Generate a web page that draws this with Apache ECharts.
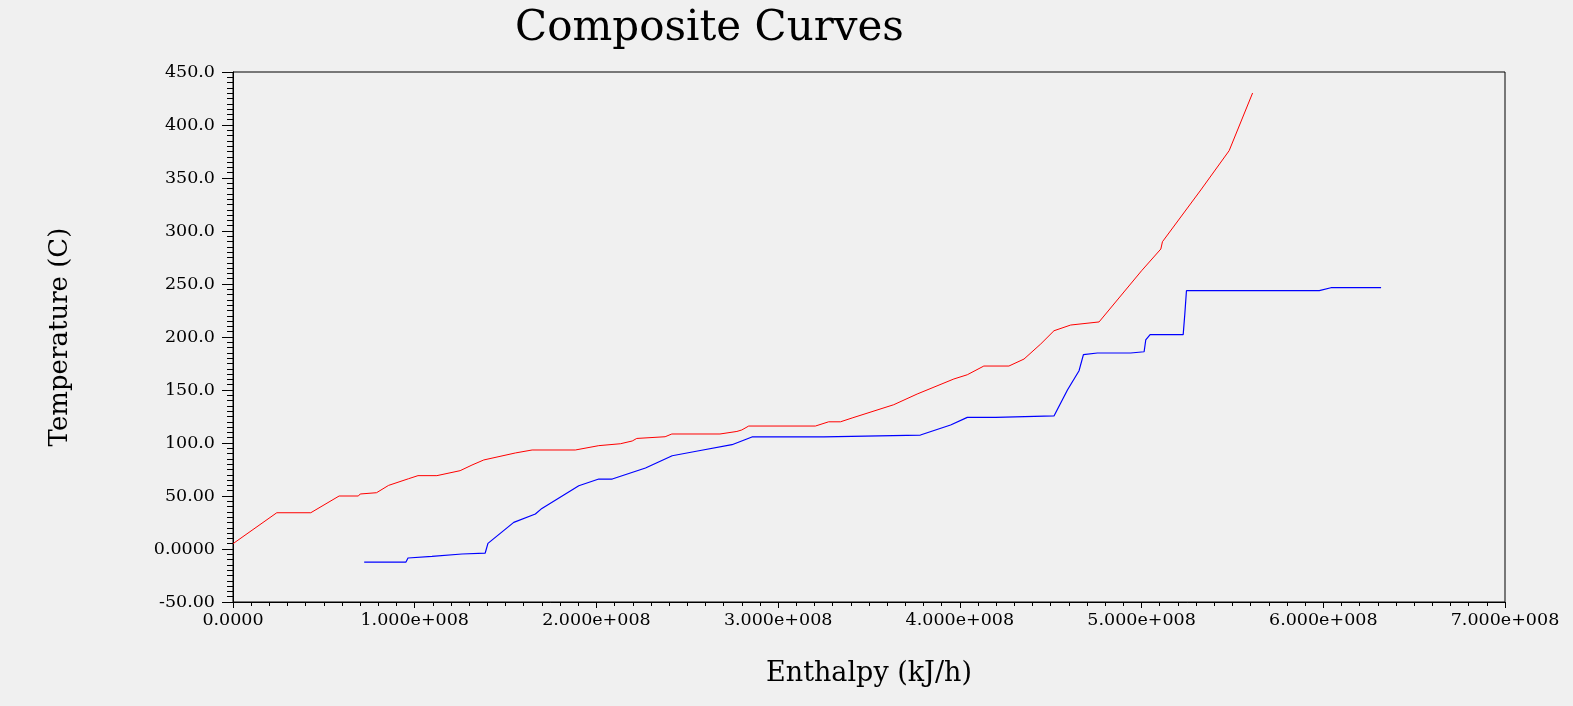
<!DOCTYPE html>
<html>
<head>
<meta charset="utf-8">
<script src="https://cdn.jsdelivr.net/npm/echarts@6/dist/echarts.min.js"></script>
<style>
html,body{margin:0;padding:0;background:#f0f0f0;}
#chart{width:1573px;height:706px;}
</style>
</head>
<body>
<div id="chart"></div>
<script>
// Hot composite curve (red): enthalpy kJ/h, temperature C
var hotEnthalpy = [0, 0.241e8, 0.428e8, 0.584e8, 0.69e8, 0.70e8, 0.79e8, 0.856e8, 0.966e8, 1.018e8, 1.122e8, 1.25e8, 1.315e8, 1.38e8, 1.554e8, 1.646e8, 1.884e8, 2.013e8, 2.132e8, 2.197e8, 2.222e8, 2.378e8, 2.415e8, 2.68e8, 2.773e8, 2.80e8, 2.838e8, 3.205e8, 3.278e8, 3.343e8, 3.407e8, 3.636e8, 3.765e8, 3.967e8, 4.041e8, 4.132e8, 4.27e8, 4.353e8, 4.445e8, 4.518e8, 4.61e8, 4.766e8, 5.0e8, 5.106e8, 5.115e8, 5.326e8, 5.482e8, 5.611e8];
var hotTemp = [5, 34.2, 34.2, 50, 50, 51.9, 53.1, 60, 66.3, 69.2, 69.2, 73.9, 79.2, 84, 90.6, 93.4, 93.4, 97.5, 99.3, 101.9, 104.3, 105.9, 108.5, 108.5, 110.9, 112.3, 116, 116, 120, 120, 123.6, 136.1, 146.2, 160.4, 164.4, 172.6, 172.6, 179.2, 193.4, 205.9, 211.3, 214.2, 262.5, 283, 289.9, 338.7, 375.8, 430.2];
// Cold composite curve (blue)
var coldEnthalpy = [0.722e8, 0.952e8, 0.963e8, 1.095e8, 1.26e8, 1.388e8, 1.403e8, 1.545e8, 1.664e8, 1.70e8, 1.903e8, 2.013e8, 2.087e8, 2.27e8, 2.417e8, 2.564e8, 2.746e8, 2.856e8, 3.251e8, 3.26e8, 3.783e8, 3.949e8, 4.041e8, 4.197e8, 4.206e8, 4.518e8, 4.592e8, 4.656e8, 4.68e8, 4.757e8, 4.94e8, 5.014e8, 5.023e8, 5.047e8, 5.229e8, 5.238e8, 5.247e8, 5.978e8, 6.042e8, 6.318e8];
var coldTemp = [-12.3, -12.3, -8.5, -7, -4.7, -3.8, 5.3, 25.1, 33, 38.3, 59.7, 66, 66, 76.4, 88, 92.7, 98.4, 105.7, 105.7, 107.5, 107.5, 117, 124.2, 124.2, 125.5, 125.5, 150, 168.2, 183.3, 184.9, 184.9, 186.1, 197.2, 202.2, 202.2, 221.7, 243.7, 243.7, 246.5, 246.5];
// Tick labels
var xTickLabels = ['0.0000', '1.000e+008', '2.000e+008', '3.000e+008', '4.000e+008', '5.000e+008', '6.000e+008', '7.000e+008'];
var yTickValues = [-50, 0, 50, 100, 150, 200, 250, 300, 350, 400, 450];
var yTickLabels = ['-50.00', '0.0000', '50.00', '100.0', '150.0', '200.0', '250.0', '300.0', '350.0', '400.0', '450.0'];

function pairs(xs, ys) { return xs.map(function (x, i) { return [x, ys[i]]; }); }

var FONT = '"DejaVu Serif", "Liberation Serif", serif';
var chart = echarts.init(document.getElementById('chart'), null, {renderer: 'canvas'});
chart.setOption({
  backgroundColor: '#f0f0f0',
  animation: false,
  title: {
    text: 'Composite Curves',
    left: 515, top: 8, padding: 0,
    textStyle: {fontFamily: FONT, fontSize: 42, fontWeight: 'normal', color: '#000'}
  },
  grid: {left: 233, top: 72, width: 1272, height: 530, show: true, borderColor: '#000', borderWidth: 1, backgroundColor: 'transparent'},
  xAxis: {
    type: 'value', min: 0, max: 7e8, interval: 1e8,
    name: 'Enthalpy (kJ/h)', nameLocation: 'middle', nameGap: 58,
    nameTextStyle: {fontFamily: FONT, fontSize: 27, color: '#000'},
    axisLine: {show: true, onZero: false, lineStyle: {color: '#000', width: 1}},
    axisTick: {show: true, length: 6, lineStyle: {color: '#000'}},
    minorTick: {show: true, splitNumber: 10, length: 4, lineStyle: {color: '#000'}},
    splitLine: {show: false},
    axisLabel: {
      margin: 9, fontFamily: FONT, fontSize: 17.5, color: '#000',
      formatter: function (v) { return xTickLabels[Math.round(v / 1e8)]; }
    }
  },
  yAxis: {
    type: 'value', min: -50, max: 450, interval: 50,
    name: 'Temperature (C)', nameLocation: 'middle', nameGap: 160,
    nameTextStyle: {fontFamily: FONT, fontSize: 26, color: '#000'},
    axisLine: {show: true, onZero: false, lineStyle: {color: '#000', width: 1}},
    axisTick: {show: true, length: 11, lineStyle: {color: '#000'}},
    minorTick: {show: true, splitNumber: 10, length: 6, lineStyle: {color: '#000'}},
    splitLine: {show: false},
    axisLabel: {
      margin: 18, fontFamily: FONT, fontSize: 17.5, color: '#000',
      formatter: function (v) { var i = yTickValues.indexOf(Math.round(v)); return i >= 0 ? yTickLabels[i] : ''; }
    }
  },
  series: [
    {type: 'line', name: 'Hot', data: pairs(hotEnthalpy, hotTemp), showSymbol: false, symbol: 'none', lineStyle: {color: '#ff0000', width: 1}, itemStyle: {color: '#ff0000'}},
    {type: 'line', name: 'Cold', data: pairs(coldEnthalpy, coldTemp), showSymbol: false, symbol: 'none', lineStyle: {color: '#0000ff', width: 1.2}, itemStyle: {color: '#0000ff'}}
  ]
});
</script>
</body>
</html>
